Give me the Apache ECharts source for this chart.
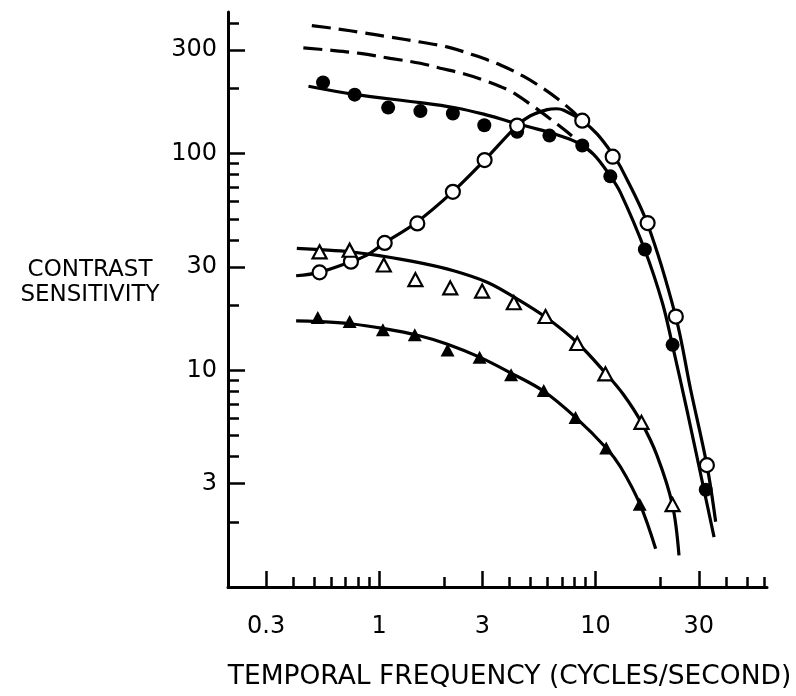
<!DOCTYPE html>
<html>
<head>
<meta charset="utf-8">
<script src="https://cdn.jsdelivr.net/npm/echarts@6/dist/echarts.min.js"></script>
<style>html,body{margin:0;padding:0;background:#fff}#chart{width:796px;height:696px}</style>
</head>
<body>
<div id="chart"></div>
<script>
// ---- data (temporal frequency in Hz, contrast sensitivity) ----
const filledCircleFreq = [0.55, 0.77, 1.10, 1.55, 2.19, 3.06, 4.34, 6.12, 8.68, 11.7, 16.9, 22.7, 32.3];
const filledCircleSens = [213, 187, 163, 157, 153, 135, 126, 121, 109, 78.5, 36.1, 13.1, 2.81];

const openCircleFreq = [0.53, 0.74, 1.06, 1.50, 2.19, 3.07, 4.34, 8.68, 12.0, 17.4, 23.5, 32.7];
const openCircleSens = [28.3, 31.7, 38.7, 47.6, 66.6, 93.3, 134.6, 141.8, 96.7, 47.8, 17.7, 3.65];

const openTriFreq = [0.53, 0.73, 1.05, 1.47, 2.13, 2.99, 4.19, 5.87, 8.23, 11.1, 16.3, 22.7];
const openTriSens = [35.2, 35.8, 30.6, 26.2, 24.0, 23.2, 20.5, 17.7, 13.3, 9.63, 5.75, 2.40];

const filledTriFreq = [0.52, 0.73, 1.04, 1.46, 2.07, 2.91, 4.07, 5.76, 8.08, 11.2, 16.0];
const filledTriSens = [17.5, 16.8, 15.4, 14.6, 12.4, 11.5, 9.53, 8.06, 6.06, 4.38, 2.41];

// fitted curves
const filledCircleFitFreq = [0.471, 0.768, 1.548, 2.208, 3.04, 4.115, 5.0, 6.41, 8.23, 9.82, 11.73, 13.05, 16.86, 20.36, 22.65, 26.7, 31.7, 35.3];
const filledCircleFitSens = [204.4, 187.4, 171.8, 163.1, 152.0, 139.4, 132.3, 123.4, 112.5, 99.0, 78.5, 65.9, 36.1, 20.5, 13.1, 6.27, 2.81, 1.70];

const openCircleFitFreq = [0.413, 0.529, 0.742, 0.877, 1.058, 1.468, 2.185, 3.07, 4.34, 5.0, 5.98, 6.6, 7.13, 8.68, 10.18, 12.03, 13.05, 17.35, 23.47, 27.5, 32.7, 35.9];
const openCircleFitSens = [27.3, 28.3, 31.7, 34.0, 38.7, 47.7, 66.6, 93.3, 134.6, 149.4, 159.5, 161.0, 158.5, 141.8, 122.9, 98.9, 86.8, 47.6, 17.7, 8.15, 3.65, 2.0];

const openTriFitFreq = [0.416, 0.533, 0.734, 1.0, 1.548, 2.208, 3.152, 4.19, 5.87, 8.23, 11.13, 13.5, 16.28, 19.2, 22.65, 24.3];
const openTriFitSens = [36.5, 36.0, 35.2, 33.8, 31.3, 28.8, 25.5, 21.8, 17.6, 13.4, 9.70, 7.69, 5.75, 4.06, 2.40, 1.40];

const filledTriFitFreq = [0.413, 0.515, 0.734, 1.04, 1.548, 2.07, 2.91, 4.07, 5.76, 8.08, 11.2, 13.05, 16.04, 18.96];
const filledTriFitSens = [16.9, 16.8, 16.4, 15.6, 14.4, 13.2, 11.5, 9.70, 8.0, 6.06, 4.38, 3.58, 2.41, 1.50];

// dashed curves
const dashUpperFreq = [0.488, 0.637, 0.846, 1.124, 1.548, 2.058, 2.733, 3.633, 4.656, 5.76, 6.886, 7.80, 8.23];
const dashUpperSens = [389.5, 376.3, 360.8, 344.6, 327.1, 310.5, 284.7, 256.4, 226.9, 198.9, 174.7, 157.3, 149.4];

const dashLowerFreq = [0.446, 0.593, 0.817, 1.124, 1.548, 1.916, 2.456, 3.152, 4.042, 5.0, 6.19, 7.40, 8.52];
const dashLowerSens = [307.2, 299.9, 289.7, 275.0, 261.0, 247.7, 233.4, 215.4, 194.0, 168.8, 144.3, 125.6, 111.1];

// axis ticks
const xMajorTicks = [0.3, 1, 3, 10, 30];
const xMinorTicks = [0.4, 0.5, 0.6, 0.7, 0.8, 0.9, 2, 4, 5, 6, 7, 8, 9, 20, 40, 50, 60];
const yMajorTicks = [3, 10, 30, 100, 300];
const yMinorTicks = [2, 4, 5, 6, 7, 8, 9, 20, 40, 50, 60, 70, 80, 90, 200, 400];

const xTitle = 'TEMPORAL FREQUENCY (CYCLES/SECOND)';
const yTitle = 'CONTRAST\nSENSITIVITY';

// ---- chart ----
const FONT = 'DejaVu Sans';
const pairs = (xs, ys) => xs.map((x, i) => [x, ys[i]]);
const X_MIN = 0.2, X_MAX = 62, Y_MIN = 1, Y_MAX = 450;

function xAxisDef(ticks, major) {
  return {
    type: 'log', logBase: 10, min: X_MIN, max: X_MAX, position: 'bottom', gridIndex: 0,
    axisLine: { show: major, lineStyle: { color: '#000', width: 3 } },
    axisTick: { show: true, inside: true, length: major ? 16 : 10, customValues: ticks,
                lineStyle: { color: '#000', width: 2.5 } },
    axisLabel: { show: major, customValues: ticks, margin: 28, color: '#000',
                 fontFamily: FONT, fontSize: 24, formatter: v => String(v) },
    splitLine: { show: false }, minorTick: { show: false },
    name: major ? xTitle : '', nameLocation: 'middle', nameGap: 77,
    nameTextStyle: { fontFamily: FONT, fontSize: 26.5, color: '#000', padding: [0, 0, 0, 24] }
  };
}
function yAxisDef(ticks, major) {
  return {
    type: 'log', logBase: 10, min: Y_MIN, max: Y_MAX, position: 'left', gridIndex: 0,
    axisLine: { show: major, lineStyle: { color: '#000', width: 3 } },
    axisTick: { show: true, inside: true, length: major ? 17 : 11, customValues: ticks,
                lineStyle: { color: '#000', width: 2.5 } },
    axisLabel: { show: major, customValues: ticks, margin: 11, color: '#000',
                 fontFamily: FONT, fontSize: 24, formatter: v => String(v) },
    splitLine: { show: false }, minorTick: { show: false }
  };
}

function lineSeries(xs, ys, dashed) {
  return {
    type: 'line', data: pairs(xs, ys), xAxisIndex: 0, yAxisIndex: 0,
    showSymbol: false, smooth: 0.35, z: 2, silent: true,
    lineStyle: { color: '#000', width: 3.2, opacity: 1, type: dashed ? [19, 8] : 'solid' }
  };
}
function scatterSeries(xs, ys, symbol, filled) {
  return {
    type: 'scatter', data: pairs(xs, ys), xAxisIndex: 0, yAxisIndex: 0, z: 3,
    symbol: symbol, symbolSize: symbol === 'triangle' ? [14, 13] : 14,
    itemStyle: filled ? { color: '#000', opacity: 1 }
                      : { color: '#fff', borderColor: '#000', borderWidth: 2.2, opacity: 1 }
  };
}

const chart = echarts.init(document.getElementById('chart'), null, { renderer: 'canvas' });
chart.setOption({
  animation: false,
  backgroundColor: '#fff',
  title: {
    text: yTitle, left: 90, top: 258, padding: 0, textAlign: 'center',
    textStyle: { fontFamily: FONT, fontSize: 23, fontWeight: 'normal', color: '#000', lineHeight: 25 }
  },
  grid: { left: 228, right: 29, top: 12, bottom: 101, containLabel: false },
  xAxis: [xAxisDef(xMajorTicks, true), xAxisDef(xMinorTicks, false)],
  yAxis: [yAxisDef(yMajorTicks, true), yAxisDef(yMinorTicks, false)],
  series: [
    lineSeries(dashUpperFreq, dashUpperSens, true),
    lineSeries(dashLowerFreq, dashLowerSens, true),
    lineSeries(filledCircleFitFreq, filledCircleFitSens, false),
    lineSeries(openCircleFitFreq, openCircleFitSens, false),
    lineSeries(openTriFitFreq, openTriFitSens, false),
    lineSeries(filledTriFitFreq, filledTriFitSens, false),
    scatterSeries(filledCircleFreq, filledCircleSens, 'circle', true),
    scatterSeries(openCircleFreq, openCircleSens, 'circle', false),
    scatterSeries(openTriFreq, openTriSens, 'triangle', false),
    scatterSeries(filledTriFreq, filledTriSens, 'triangle', true)
  ]
});
</script>
</body>
</html>
